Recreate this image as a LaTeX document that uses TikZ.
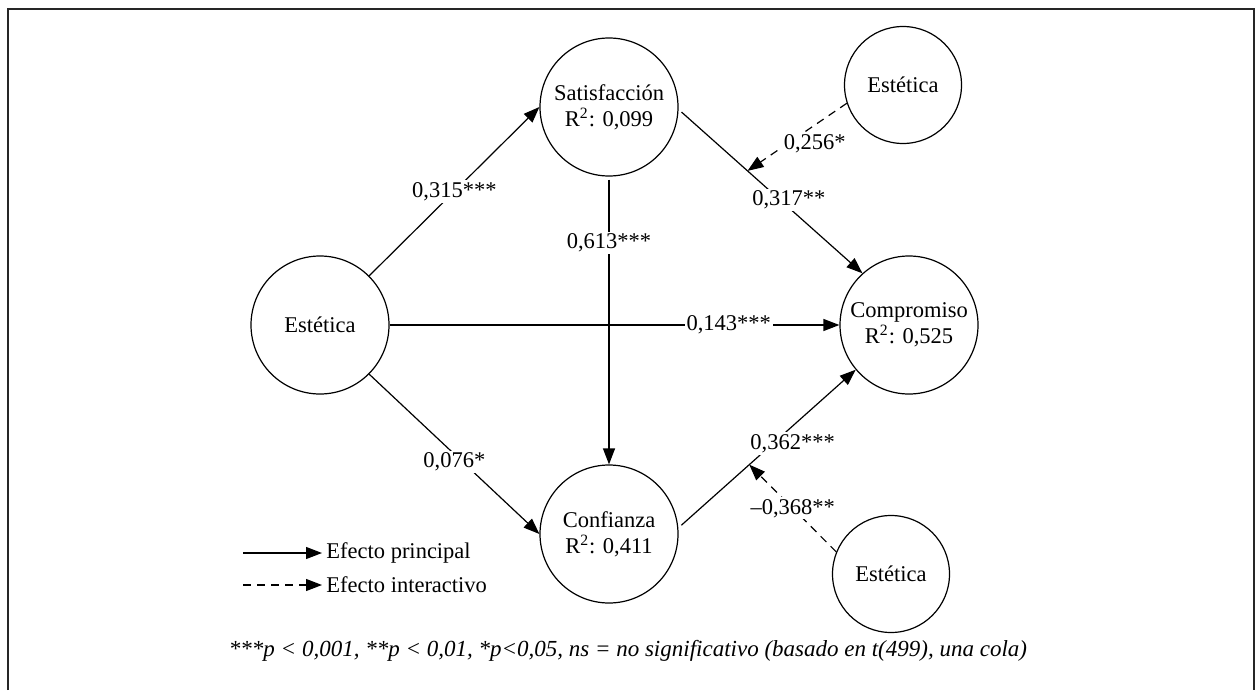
\documentclass[tikz,border=0pt]{standalone}
\usepackage{fontspec}
\setmainfont{Liberation Serif}
\usetikzlibrary{arrows.meta}

\begin{document}
\begin{tikzpicture}[x=0.5pt,y=0.5pt,yscale=-1,xscale=1,
  font=\fontsize{11.25}{13}\selectfont,
  var/.style={draw,circle,line width=0.6pt,minimum size=69pt,inner sep=0pt,align=center},
  mod/.style={var,minimum size=58.5pt},
  efecto/.style={line width=0.6pt,-{Triangle[length=8pt,width=6pt]}},
  interac/.style={efecto,dash pattern={on 4pt off 3pt}},
  coef/.style={fill=white,inner sep=1pt}]
\useasboundingbox (0,0) rectangle (1256,690);
\draw [line width=1pt,black!85] (8,690) -- (8,9) -- (1254,9) -- (1254,690);

\node[var] (estL) at (320,325) {Estética};
\node[var] (sat) at (609,107) {Satisfacción\\R\textsuperscript{2}: 0,099};
\node[var] (comp) at (909,325) {Compromiso\\R\textsuperscript{2}: 0,525};
\node[var] (conf) at (609,534) {Confianza\\R\textsuperscript{2}: 0,411};
\node[mod] (estT) at (903,85) {Estética};
\node[mod] (estB) at (891,574) {Estética};

\draw[efecto] (estL.45) -- node[coef,pos=0.5]{0,315***} (sat.west);
\draw[efecto] (estL.east) -- node[coef,pos=0.754]{0,143***} (comp.west);
\draw[efecto] (estL.-45) -- node[coef,pos=0.5,yshift=-4pt]{0,076*} (conf.west);
\draw[efecto,shorten <=1.5pt] (sat.south) -- node[coef,pos=0.23]{0,613***} (conf.north);
\draw[efecto,shorten <=2pt] (sat.-2) -- coordinate[pos=0.375] (m1) node[coef,pos=0.6,yshift=4pt]{0,317**} (comp.132);
\draw[efecto,shorten <=2pt] (conf.5) -- coordinate[pos=0.4] (m2) node[coef,pos=0.52,xshift=11pt,yshift=1pt]{0,362***} (comp.220);
\draw[interac] (estT.198) -- node[coef,pos=0.6,anchor=west,xshift=-3pt]{0,256*} (m1);
\draw[interac] (estB.158) -- node[coef,pos=0.5]{\textendash 0,368**} (m2);

\coordinate (l1) at (243,553);
\node[anchor=west,inner sep=2pt] (lp) at (322,553) {Efecto principal};
\draw[efecto] (l1) -- (lp.west);
\coordinate (l2) at (243,585);
\node[anchor=west,inner sep=2pt] (li) at (322,585) {Efecto interactivo};
\draw[interac] (l2) -- (li.west);

\node[font=\fontsize{11.5}{13}\selectfont\itshape] (nota) at (628,651) {***p < 0,001, **p < 0,01, *p<0,05, ns = no significativo (basado en t(499), una cola)};
\end{tikzpicture}
\end{document}
